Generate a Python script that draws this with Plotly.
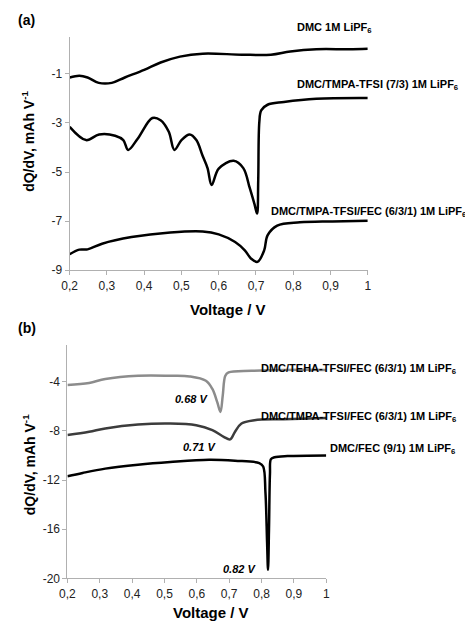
import plotly.graph_objects as go

# ---- Panel (a) data ----
a_dmc_x = [0.2, 0.226, 0.248, 0.278, 0.313, 0.348, 0.40, 0.444, 0.496, 0.557, 0.662, 0.74, 0.792, 0.862, 0.949, 1.0]
a_dmc_y = [-1.15, -1.08, -1.15, -1.37, -1.37, -1.15, -0.84, -0.54, -0.30, -0.18, -0.22, -0.22, -0.09, 0.0, 0.0, 0.02]

a_tmpa_x = [0.2, 0.244, 0.279, 0.322, 0.344, 0.357, 0.383, 0.422, 0.444, 0.466, 0.481, 0.50, 0.522, 0.540,
            0.557, 0.570, 0.581, 0.600, 0.640, 0.666, 0.683, 0.696, 0.703, 0.706, 0.709, 0.714, 0.731, 0.775, 0.862, 1.0]
a_tmpa_y = [-3.16, -3.70, -3.47, -3.52, -3.70, -4.10, -3.63, -2.80, -2.89, -3.36, -4.10, -3.70, -3.47, -3.70,
            -4.35, -4.84, -5.53, -4.86, -4.54, -4.84, -5.64, -6.31, -6.69, -5.37, -2.96, -2.49, -2.26, -2.15, -2.02, -1.99]

a_fec_x = [0.2, 0.226, 0.248, 0.287, 0.366, 0.470, 0.557, 0.60, 0.644, 0.670, 0.687, 0.704, 0.722, 0.731, 0.757, 0.818, 0.905, 1.0]
a_fec_y = [-8.35, -8.16, -8.15, -7.92, -7.65, -7.46, -7.42, -7.54, -7.85, -8.19, -8.53, -8.66, -8.19, -7.58, -7.18, -7.05, -7.01, -6.98]

# ---- Panel (b) data ----
b_teha_x = [0.2, 0.267, 0.317, 0.418, 0.518, 0.578, 0.628, 0.648, 0.663, 0.673, 0.680, 0.688, 0.698, 0.769, 0.87, 1.0]
b_teha_y = [-4.27, -4.10, -3.78, -3.52, -3.52, -3.57, -3.92, -4.59, -5.66, -6.46, -5.13, -3.52, -3.25, -3.12, -3.04, -3.04]

b_tmpa_x = [0.2, 0.267, 0.317, 0.418, 0.518, 0.598, 0.648, 0.683, 0.703, 0.718, 0.738, 0.778, 0.868, 1.0]
b_tmpa_y = [-8.34, -8.07, -7.80, -7.48, -7.40, -7.54, -7.94, -8.48, -8.69, -8.07, -7.40, -7.13, -7.05, -6.95]

b_fec_x = [0.2, 0.247, 0.317, 0.418, 0.518, 0.638, 0.718, 0.793, 0.805, 0.812, 0.817, 0.820, 0.823, 0.826, 0.829, 0.84, 0.88, 1.0]
b_fec_y = [-11.69, -11.42, -11.07, -10.75, -10.53, -10.35, -10.43, -10.62, -10.9, -13.0, -17.0, -19.3, -16.0, -11.5, -10.3, -10.15, -10.05, -10.0]

x_ticks = [0.2, 0.3, 0.4, 0.5, 0.6, 0.7, 0.8, 0.9, 1.0]
x_ticklabels = ["0,2", "0,3", "0,4", "0,5", "0,6", "0,7", "0,8", "0,9", "1"]
a_yticks = [-9, -7, -5, -3, -1]
a_yticklabels = ["-9", "-7", "-5", "-3", "-1"]
b_yticks = [-20, -16, -12, -8, -4]
b_yticklabels = ["-20", "-16", "-12", "-8", "-4"]

W, H = 465, 625
def px(x):
    return x / W
def py(y):
    return 1 - y / H

FONT = "Arial, Liberation Sans, sans-serif"

fig = go.Figure()
line_kw = dict(mode="lines", line_shape="spline", hoverinfo="skip", showlegend=False)
fig.add_trace(go.Scatter(x=a_dmc_x, y=a_dmc_y, line=dict(color="black", width=2.5), xaxis="x", yaxis="y", **line_kw))
fig.add_trace(go.Scatter(x=a_tmpa_x, y=a_tmpa_y, line=dict(color="black", width=2.5), xaxis="x", yaxis="y", **line_kw))
fig.add_trace(go.Scatter(x=a_fec_x, y=a_fec_y, line=dict(color="black", width=2.5), xaxis="x", yaxis="y", **line_kw))
fig.add_trace(go.Scatter(x=b_teha_x, y=b_teha_y, line=dict(color="#8c8c8c", width=2.5), xaxis="x2", yaxis="y2", **line_kw))
fig.add_trace(go.Scatter(x=b_tmpa_x, y=b_tmpa_y, line=dict(color="#3c3c3c", width=2.5), xaxis="x2", yaxis="y2", **line_kw))
fig.add_trace(go.Scatter(x=b_fec_x, y=b_fec_y, line=dict(color="black", width=2.5), xaxis="x2", yaxis="y2", **line_kw))

axis_common = dict(showgrid=False, zeroline=False, showline=True, linecolor="#b0b0b0", linewidth=1,
                   ticks="outside", tickcolor="#b0b0b0", ticklen=4,
                   tickfont=dict(family=FONT, size=12, color="#222"))

fig.update_layout(
    width=W, height=H, margin=dict(l=0, r=0, t=0, b=0),
    paper_bgcolor="white", plot_bgcolor="white",
    xaxis=dict(domain=[px(63.3), px(369.3)], range=[0.2, 1.0], anchor="y",
               tickvals=x_ticks, ticktext=x_ticklabels, **axis_common),
    yaxis=dict(domain=[py(273.3), py(37.4)], range=[-9, 0.5], anchor="x",
               tickvals=a_yticks, ticktext=a_yticklabels, **axis_common),
    xaxis2=dict(domain=[px(61), px(326.7)], range=[0.2, 1.0], anchor="y2",
                tickvals=x_ticks, ticktext=x_ticklabels, **axis_common),
    yaxis2=dict(domain=[py(585), py(348.7)], range=[-20, -1], anchor="x2",
                tickvals=b_yticks, ticktext=b_yticklabels, **axis_common),
)

def ann(text, x, y, size=11, bold=True, italic=False, angle=0, xanchor="center"):
    t = text
    if bold:
        t = "<b>" + t + "</b>"
    if italic:
        t = "<i>" + t + "</i>"
    fig.add_annotation(text=t, x=px(x), y=py(y), xref="paper", yref="paper", showarrow=False,
                       xanchor=xanchor, yanchor="middle", textangle=angle,
                       font=dict(family=FONT, size=size, color="black"))

sub6 = "LiPF<sub>6</sub>"
ann("(a)", 8, 20, size=14, xanchor="left")
ann("(b)", 8, 332, size=14, xanchor="left")
ann("dQ/dV, mAh V<sup>-1</sup>", 21, 143, size=14, angle=-90)
ann("dQ/dV, mAh V<sup>-1</sup>", 21, 470, size=14, angle=-90)
ann("Voltage / V", 226, 313, size=15)
ann("Voltage / V", 208, 619, size=15)

ann("DMC 1M " + sub6, 295, 28, xanchor="left")
ann("DMC/TMPA-TFSI (7/3) 1M " + sub6, 295, 86, xanchor="left")
ann("DMC/TMPA-TFSI/FEC (6/3/1) 1M " + sub6, 268, 214, xanchor="left")
ann("DMC/TEHA-TFSI/FEC (6/3/1) 1M " + sub6, 258, 373, xanchor="left")
ann("DMC/TMPA-TFSI/FEC (6/3/1) 1M " + sub6, 258, 422, xanchor="left")
ann("DMC/FEC (9/1) 1M " + sub6, 328, 454, xanchor="left")
ann("0.68 V", 188, 404, italic=True)
ann("0.71 V", 197, 452, italic=True)
ann("0.82 V", 238, 575, italic=True)

fig.write_html("out.html")
